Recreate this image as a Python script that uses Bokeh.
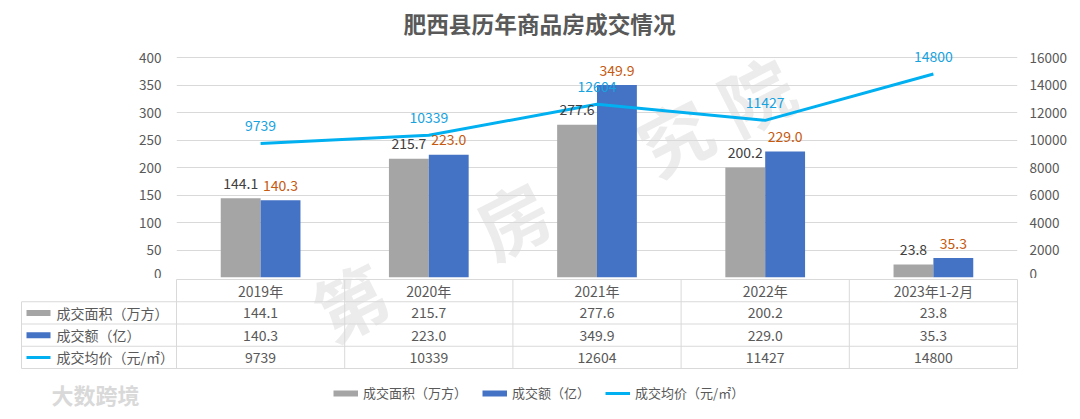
import numpy as np

from bokeh.core.properties import value
from bokeh.embed import file_html
from bokeh.layouts import column
from bokeh.models import (ColumnDataSource, FixedTicker, Legend, LegendItem,
                          LinearAxis, Range1d)
from bokeh.plotting import figure
from bokeh.resources import INLINE

TITLE = "肥西县历年商品房成交情况"
years = ["2019年", "2020年", "2021年", "2022年", "2023年1-2月"]
area = [144.1, 215.7, 277.6, 200.2, 23.8]        # 成交面积（万方）
amount = [140.3, 223.0, 349.9, 229.0, 35.3]      # 成交额（亿）
price = [9739, 10339, 12604, 11427, 14800]       # 成交均价（元/㎡）
names = ["成交面积（万方）", "成交额（亿）", "成交均价（元/㎡）"]
left_ticks = [0, 50, 100, 150, 200, 250, 300, 350, 400]
right_ticks = [0, 2000, 4000, 6000, 8000, 10000, 12000, 14000, 16000]
watermark = "第一房研究院"
logo = "大数跨境"

FONT = "Noto Sans CJK SC"
TXT = "#595959"
GRAY, BLUE, CYAN, ORANGE = "#A5A5A5", "#4472C4", "#00B0F0", "#C55A11"
RULE = "#D9D9D9"

# geometry (page pixels): plot frame x 176..1017, y 42..277
CAT_PX = 168.2
Y_PX = 0.55
ROW_PX = 22.25
n = len(years)
xs = np.arange(n) + 0.5
bw = 0.237
y_top = 235 / Y_PX
ratio = right_ticks[-1] / left_ticks[-1]

src = ColumnDataSource(dict(
    x=xs, xg=xs - bw / 2, xb=xs + bw / 2,
    area=area, amount=amount, price=price,
    area_txt=[f"{v:.1f}" for v in area],
    amount_txt=[f"{v:.1f}" for v in amount],
    price_txt=[str(v) for v in price],
))

# watermark characters along a tilted line (page pixels);
# the 2nd and 4th characters sit fully behind the 2020/2021 bars, so skip them
wm_ang = np.deg2rad(27)
wm_k = np.arange(len(watermark)) - (len(watermark) - 1) / 2
wm_px = 552 + wm_k * 91 * np.cos(wm_ang)
wm_py = 196 - wm_k * 91 * np.sin(wm_ang)
wm_chars = np.array(list(watermark))
seen = np.array([0, 2, 4, 5])
wm_px, wm_py, wm_chars = wm_px[seen], wm_py[seen], wm_chars[seen]
wm_style = dict(angle=wm_ang, text_align="center", text_baseline="middle",
                text_font=value(FONT), text_font_size="72px", text_font_style="bold",
                text_color="#BFBFBF", text_alpha=0.3)

# ---------------- chart ----------------
p = figure(
    width=1080, height=278,
    x_range=Range1d(0, n), y_range=Range1d(0, y_top),
    output_backend="svg", toolbar_location=None,
    x_axis_location=None,
    min_border_left=176, min_border_right=63,
    min_border_top=42, min_border_bottom=1,
    outline_line_color=None,
)
p.frame_align = False
p.title.text = TITLE
p.title.align = "left"
p.title.offset = 227
p.title.standoff = 6
p.title.text_font = FONT
p.title.text_font_size = "22.7px"
p.title.text_font_style = "bold"
p.title.text_color = TXT

p.xgrid.visible = False
p.ygrid.ticker = FixedTicker(ticks=left_ticks)
p.ygrid.grid_line_color = RULE

p.extra_y_ranges = {"price": Range1d(0, y_top * ratio)}
p.add_layout(LinearAxis(y_range_name="price"), "right")

for ax, ticks, standoff in ((p.yaxis[0], left_ticks, 9), (p.yaxis[1], right_ticks, 6)):
    ax.ticker = FixedTicker(ticks=ticks)
    ax.axis_line_color = None
    ax.major_tick_line_color = None
    ax.minor_tick_line_color = None
    ax.major_label_standoff = standoff
    ax.major_label_text_font = FONT
    ax.major_label_text_font_size = "13.5px"
    ax.major_label_text_color = TXT

p.text(x=(wm_px - 176) / CAT_PX, y=(277 - wm_py) / Y_PX, text=wm_chars,
       level="underlay", **wm_style)

p.vbar(x="xg", top="area", width=bw, source=src, fill_color=GRAY, line_color=None)
p.vbar(x="xb", top="amount", width=bw, source=src, fill_color=BLUE, line_color=None)
p.line(x="x", y="price", source=src, y_range_name="price", line_color=CYAN, line_width=3)

lbl = dict(source=src, text_align="center", text_baseline="middle",
           text_font=value(FONT), text_font_size="14px")
p.text(x="xg", y="area", text="area_txt", y_offset=-15, text_color="#404040", **lbl)
p.text(x="xb", y="amount", text="amount_txt", y_offset=-15, text_color=ORANGE, **lbl)
p.text(x="x", y="price", text="price_txt", y_offset=-18, y_range_name="price",
       text_color="#17A2E0", **lbl)

# ---------------- data table + legend ----------------
lw = (176 - 21) / CAT_PX            # width of the row-label column
t = figure(
    width=1080, height=141,
    x_range=Range1d((18 - 176) / CAT_PX, (1019 - 176) / CAT_PX),
    y_range=Range1d(4 - (419 - 279) / ROW_PX, 4 + 1 / ROW_PX),
    output_backend="svg", toolbar_location=None,
    x_axis_location=None, y_axis_location=None,
    min_border_left=18, min_border_right=61,
    min_border_top=0, min_border_bottom=0,
    outline_line_color=None,
)
t.frame_align = False
t.grid.visible = False

low = wm_py > 262
t.text(x=(wm_px[low] - 176) / CAT_PX, y=4 - (wm_py[low] - 279) / ROW_PX,
       text=wm_chars[low], **wm_style)

rows = len(names)
levels = list(range(rows + 1, -1, -1))
t.segment(x0=[0] + [-lw] * (rows + 1), y0=levels, x1=[n] * (rows + 2), y1=levels,
          line_color=RULE, line_width=1)
t.segment(x0=[-lw] + list(range(n + 1)), y0=[0] * (n + 2),
          x1=[-lw] + list(range(n + 1)), y1=[rows] + [rows + 1] * (n + 1),
          line_color=RULE, line_width=1)

cell = dict(text_baseline="middle", text_font=value(FONT),
            text_font_size="14px", text_color=TXT)
t.text(x=xs, y=[rows + 0.5] * n, text=years, text_align="center", **cell)
for i, vals in enumerate((src.data["area_txt"], src.data["amount_txt"], src.data["price_txt"])):
    t.text(x=xs, y=[rows - i - 0.5] * n, text=vals, text_align="center", **cell)
t.text(x=[-lw + 35 / CAT_PX] * rows, y=[rows - i - 0.5 for i in range(rows)],
       text=names, text_align="left", **cell)

sw = []
for i, (c, w) in enumerate(((GRAY, 6), (BLUE, 6), (CYAN, 3))):
    yy = rows - i - 0.5
    sw.append(t.segment(x0=[-lw + 5 / CAT_PX], y0=[yy], x1=[-lw + 29 / CAT_PX], y1=[yy],
                        line_color=c, line_width=w))

legend = Legend(
    items=[LegendItem(label=nm, renderers=[r]) for nm, r in zip(names, sw)],
    orientation="horizontal", location=(315, 17),
    glyph_width=25, glyph_height=16, label_height=16,
    label_standoff=5, spacing=15, padding=0, margin=0,
    label_text_font=FONT, label_text_font_size="13px", label_text_color=TXT,
    border_line_color=None, background_fill_alpha=0,
)
t.add_layout(legend)

t.text(x=[(95 - 176) / CAT_PX], y=[4 - (393 - 279) / ROW_PX], text=[logo],
       text_align="center", text_baseline="middle", text_font=value(FONT),
       text_font_size="22px", text_font_style="bold", text_color="#D9D9D9")

layout = column(p, t, spacing=0)
open("out.html", "w").write(file_html(layout, INLINE))
